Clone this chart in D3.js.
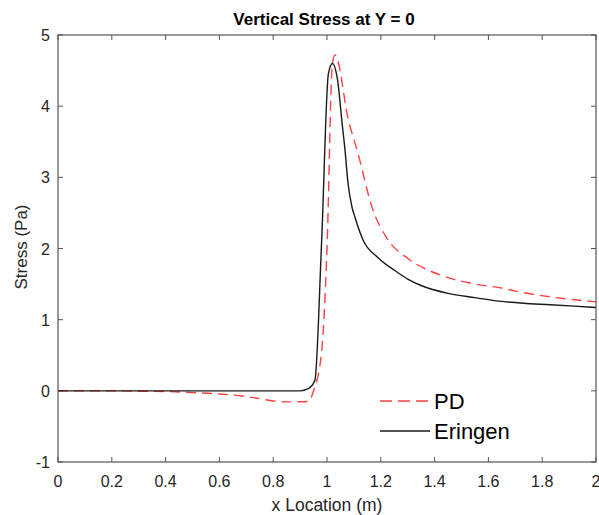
<!DOCTYPE html>
<html>
<head>
<meta charset="utf-8">
<script src="https://cdn.jsdelivr.net/npm/d3@7"></script>
<style>
  body { margin: 0; background: #fff; }
  text { font-family: Arial, "Liberation Sans", sans-serif; }
</style>
</head>
<body>
<script>
// PD curve (red dashed)
var pdX = [0, 0.1, 0.2, 0.3, 0.4, 0.5, 0.6, 0.68, 0.75, 0.82, 0.87, 0.93, 0.95, 0.98, 1.0, 1.02, 1.03, 1.08, 1.115, 1.17, 1.22, 1.3, 1.38, 1.46, 1.55, 1.64, 1.73, 1.83, 1.92, 2.0];
var pdY = [0, 0, 0, -0.005, -0.01, -0.025, -0.045, -0.07, -0.11, -0.15, -0.155, -0.15, 0.0, 0.55, 2.0, 4.6, 4.72, 3.8, 3.34, 2.55, 2.16, 1.86, 1.69, 1.58, 1.5, 1.45, 1.38, 1.32, 1.28, 1.25];

// Eringen curve (black solid)
var erX = [0, 0.2, 0.4, 0.6, 0.8, 0.9, 0.93, 0.955, 0.98, 1.005, 1.02, 1.04, 1.055, 1.067, 1.078, 1.093, 1.104, 1.134, 1.19, 1.26, 1.3, 1.35, 1.45, 1.55, 1.64, 1.73, 1.83, 1.92, 2.0];
var erY = [0, 0, 0, 0, 0, 0, 0.03, 0.15, 2.1, 4.45, 4.6, 4.35, 3.8, 3.38, 2.92, 2.58, 2.44, 2.12, 1.87, 1.67, 1.57, 1.48, 1.37, 1.31, 1.26, 1.23, 1.21, 1.19, 1.17];

var xTicks = [0, 0.2, 0.4, 0.6, 0.8, 1, 1.2, 1.4, 1.6, 1.8, 2];
var yTicks = [-1, 0, 1, 2, 3, 4, 5];

var legendNames = ["PD", "Eringen"];

window.onload = drawChart();

function drawChart(){
    var width = 599, height = 515;
    var left = 58, right = 596, top = 35, bottom = 462;

    var svg = d3.select("body")
        .append("svg")
        .attr("width", width)
        .attr("height", height);

    var x = d3.scaleLinear().domain([0, 2]).range([left, right]);
    var y = d3.scaleLinear().domain([-1, 5]).range([bottom, top]);

    var axisColor = "#555";

    // tick marks (inward, on all four sides)
    var tickLen = 5;
    svg.selectAll(".xt")
        .data(xTicks)
        .enter()
        .append("g")
        .each(function(d){
            var g = d3.select(this);
            g.append("line").attr("x1", x(d)).attr("x2", x(d))
                .attr("y1", bottom).attr("y2", bottom - tickLen)
                .attr("stroke", axisColor);
            g.append("line").attr("x1", x(d)).attr("x2", x(d))
                .attr("y1", top).attr("y2", top + tickLen)
                .attr("stroke", axisColor);
            g.append("text").attr("x", x(d)).attr("y", bottom + 25)
                .attr("text-anchor", "middle")
                .attr("font-size", 16)
                .attr("fill", "#262626")
                .text(d);
        });

    svg.selectAll(".yt")
        .data(yTicks)
        .enter()
        .append("g")
        .each(function(d){
            var g = d3.select(this);
            g.append("line").attr("x1", left).attr("x2", left + tickLen)
                .attr("y1", y(d)).attr("y2", y(d))
                .attr("stroke", axisColor);
            g.append("line").attr("x1", right).attr("x2", right - tickLen)
                .attr("y1", y(d)).attr("y2", y(d))
                .attr("stroke", axisColor);
            g.append("text").attr("x", left - 8).attr("y", y(d) + 6)
                .attr("text-anchor", "end")
                .attr("font-size", 16)
                .attr("fill", "#262626")
                .text(d);
        });

    // smooth, no overshoot
    var line = d3.line()
        .curve(d3.curveMonotoneX)
        .x(function(d){ return x(d[0]); })
        .y(function(d){ return y(d[1]); });

    var pd = pdX.map(function(v, i){ return [v, pdY[i]]; });
    var er = erX.map(function(v, i){ return [v, erY[i]]; });

    svg.append("path")
        .datum(pd)
        .attr("d", line)
        .attr("fill", "none")
        .attr("stroke", "#ff4040")
        .attr("stroke-width", 1.4)
        .attr("stroke-dasharray", "10,6");

    svg.append("path")
        .datum(er)
        .attr("d", line)
        .attr("fill", "none")
        .attr("stroke", "#1a1a1a")
        .attr("stroke-width", 1.4);

    // box
    svg.append("rect")
        .attr("x", left).attr("y", top)
        .attr("width", right - left).attr("height", bottom - top)
        .attr("fill", "none")
        .attr("stroke", axisColor)
        .attr("stroke-width", 1.2);

    // title and labels
    svg.append("text")
        .attr("x", 324).attr("y", 25)
        .attr("text-anchor", "middle")
        .attr("font-size", 17)
        .attr("font-weight", "bold")
        .attr("fill", "#000")
        .text("Vertical Stress at Y = 0");

    svg.append("text")
        .attr("x", 327).attr("y", 511)
        .attr("text-anchor", "middle")
        .attr("font-size", 17.5)
        .attr("fill", "#262626")
        .text("x Location (m)");

    svg.append("text")
        .attr("transform", "translate(27,247) rotate(-90)")
        .attr("text-anchor", "middle")
        .attr("font-size", 17)
        .attr("fill", "#262626")
        .text("Stress (Pa)");

    // legend
    var leg = svg.selectAll(".legend")
        .data(legendNames)
        .enter()
        .append("g")
        .attr("transform", function(d, i){ return "translate(380," + (401 + i * 30) + ")"; });

    leg.append("line")
        .attr("x1", 0).attr("x2", 50)
        .attr("y1", 0).attr("y2", 0)
        .attr("stroke", function(d, i){ return i == 0 ? "#ff4040" : "#1a1a1a"; })
        .attr("stroke-width", 1.4)
        .attr("stroke-dasharray", function(d, i){ return i == 0 ? "12,6" : null; });

    leg.append("text")
        .attr("x", 54).attr("y", 8)
        .attr("font-size", 22)
        .attr("fill", "#000")
        .text(function(d){ return d; });
}
</script>
</body>
</html>
